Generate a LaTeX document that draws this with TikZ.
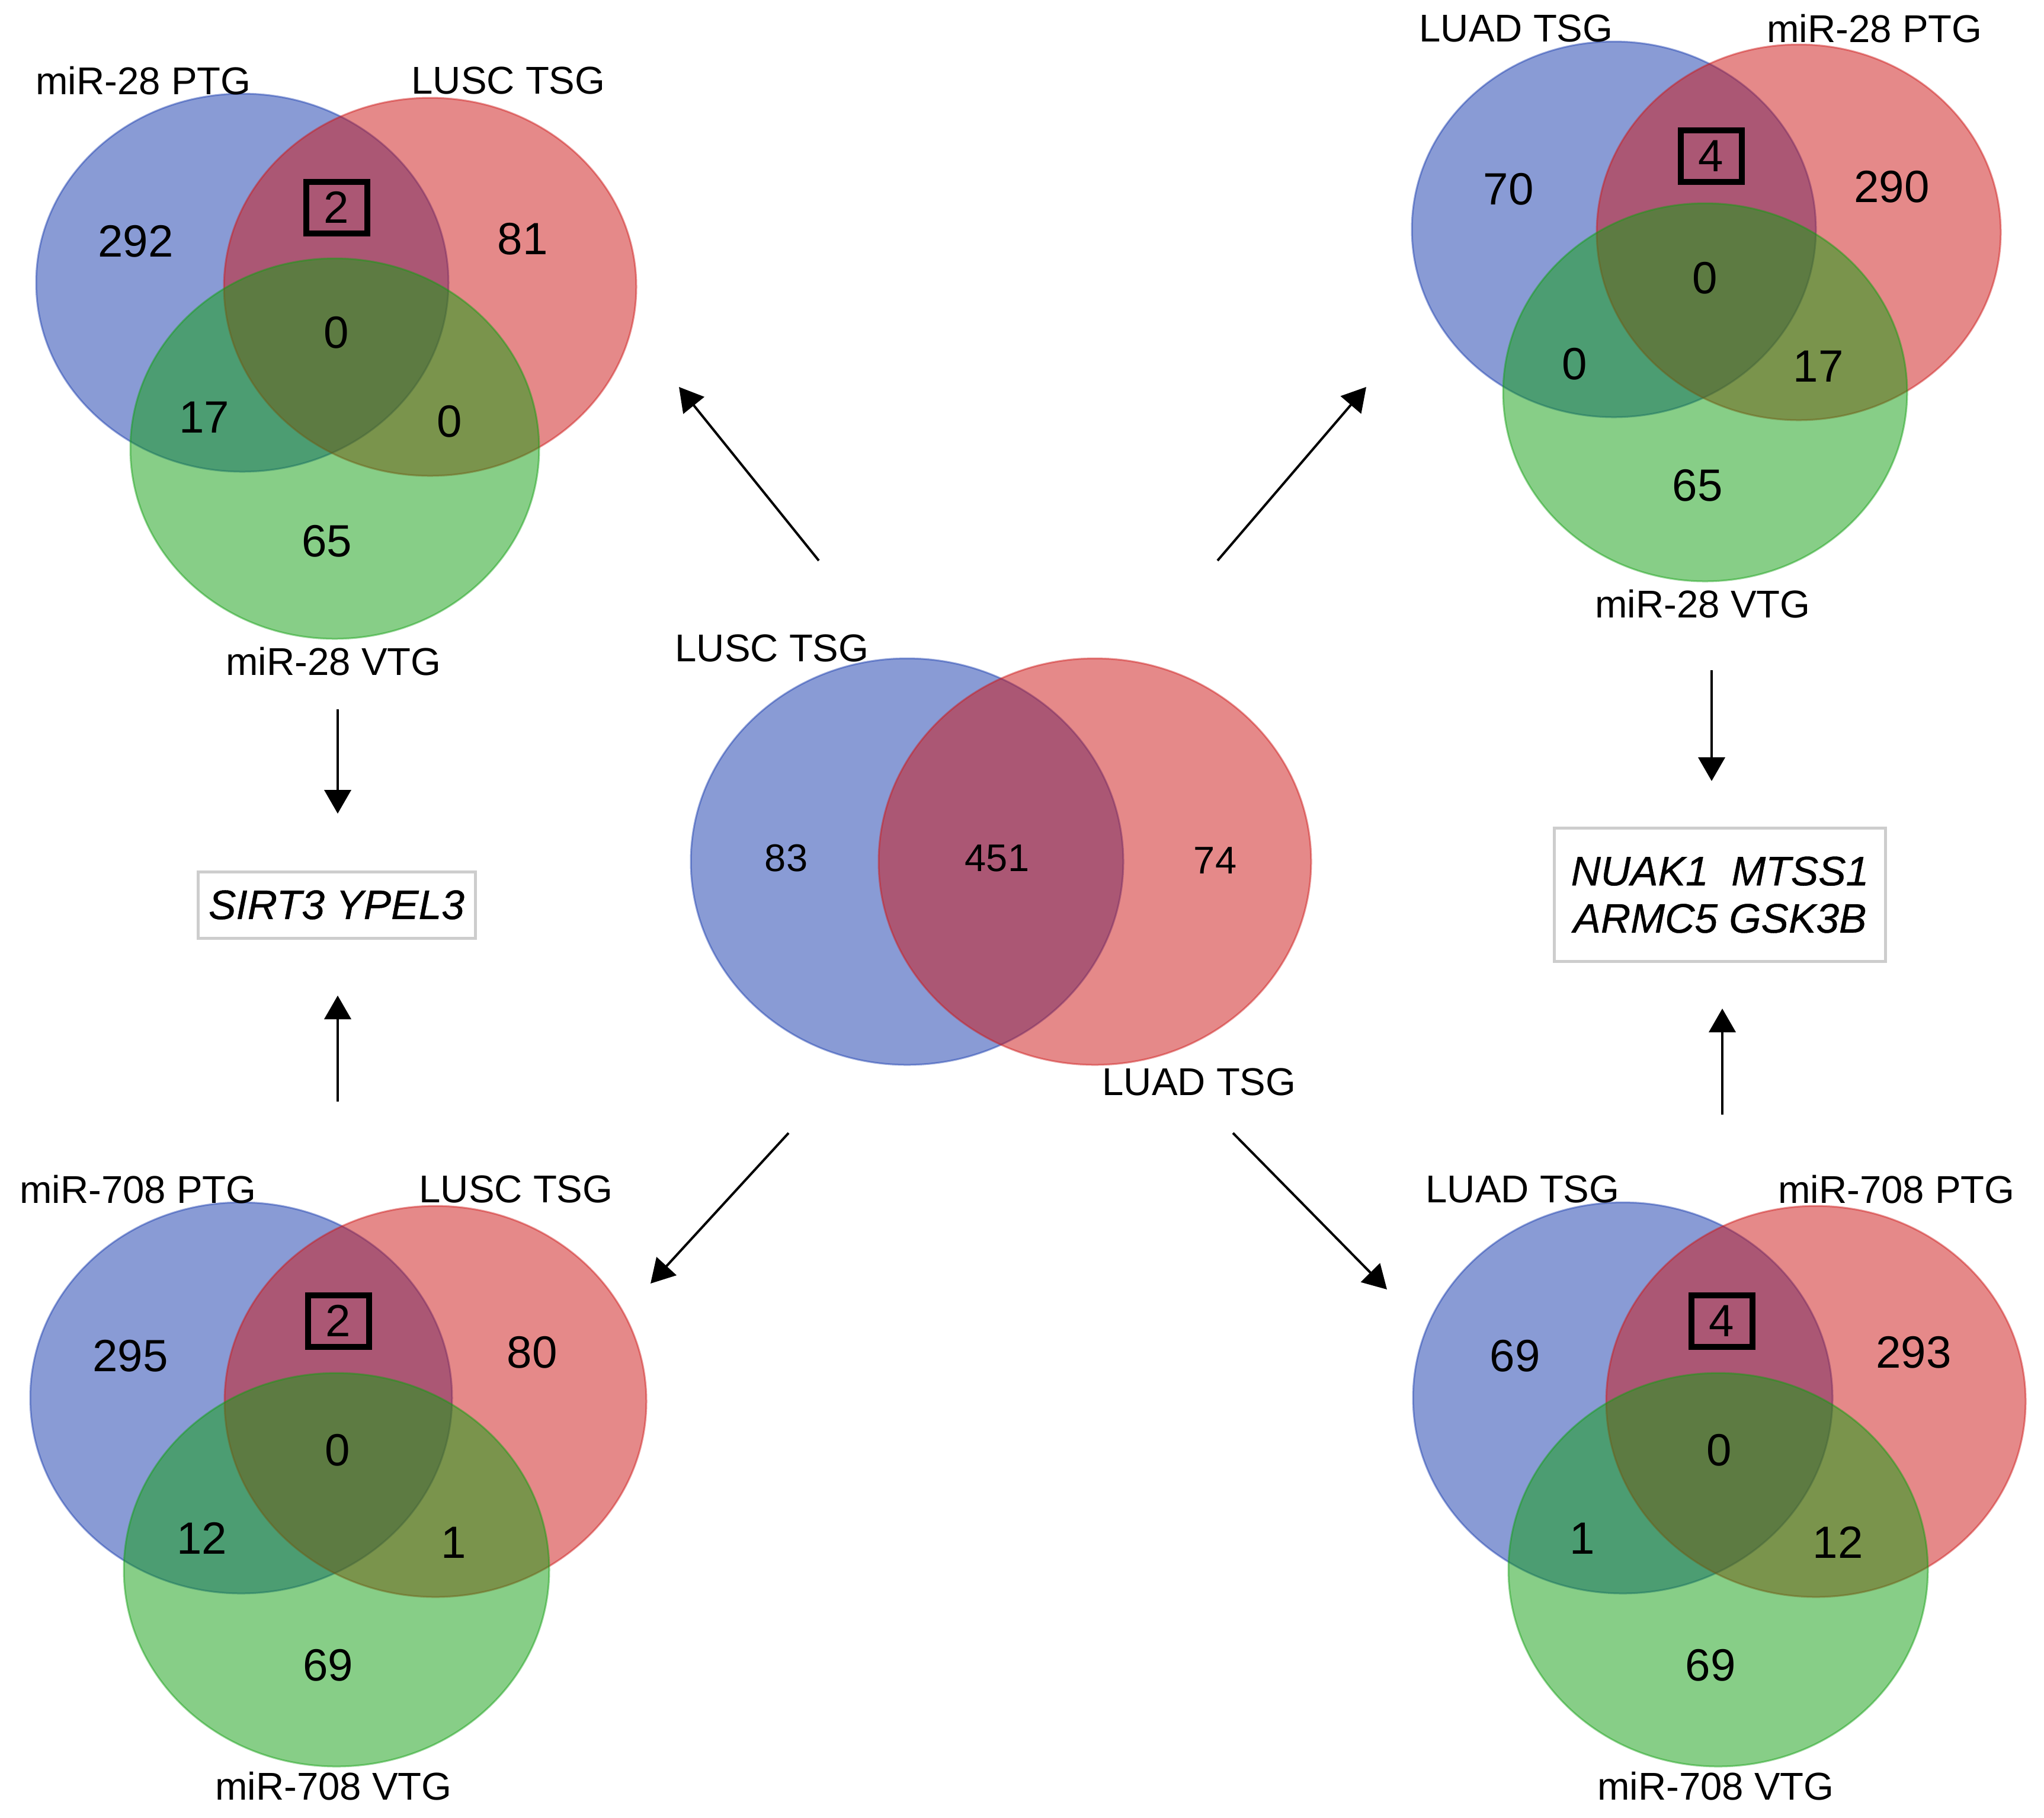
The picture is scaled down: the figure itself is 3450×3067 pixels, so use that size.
\documentclass[tikz,border=0pt]{standalone}
\usepackage{fontspec}
\setmainfont{Liberation Sans}
\newfontfamily\genefont[FakeBold=0.6]{Liberation Sans}
\usetikzlibrary{arrows.meta}
\definecolor{vblue}{RGB}{21,57,173}
\definecolor{vred}{RGB}{205,21,21}
\definecolor{vgreen}{RGB}{17,159,17}
\definecolor{gbox}{RGB}{205,205,205}
\tikzset{
  setblue/.style={fill=vblue, fill opacity=0.5, draw=vblue, draw opacity=0.45, line width=0.3mm},
  setred/.style={fill=vred, fill opacity=0.5, draw=vred, draw opacity=0.45, line width=0.3mm},
  setgreen/.style={fill=vgreen, fill opacity=0.5, draw=vgreen, draw opacity=0.45, line width=0.3mm},
  lbl/.style={font=\fontsize{18.6}{22}\selectfont, inner sep=0pt},
  num/.style={font=\fontsize{21.7}{26}\selectfont, inner sep=0pt},
  cnum/.style={font=\fontsize{18.5}{22}\selectfont, inner sep=0pt},
  numbox/.style={draw=black, line width=1mm, minimum width=10.3mm, minimum height=8.7mm},
  genebox/.style={draw=gbox, line width=0.5mm, font=\genefont\fontsize{19.8}{22.7}\selectfont\itshape, align=center, inner sep=0pt},
  arr/.style={-{Triangle[length=4mm, width=4.5mm]}, line width=0.4mm}
}
\begin{document}
\begin{tikzpicture}[x=0.1mm, y=-0.1mm]
\useasboundingbox (0,0) rectangle (3450,3067);
\fill[white] (0,0) rectangle (3450,3067);

% ---------- Top-left Venn ----------
\path[setblue]  (409,477) ellipse [x radius=348, y radius=319];
\path[setred]   (726,484) ellipse [x radius=348, y radius=319];
\path[setgreen] (565,757) ellipse [x radius=345, y radius=321];
\node[lbl] (tlA) at (242,136) {miR-28 PTG};
\node[lbl] (tlB) at (858,136) {LUSC TSG};
\node[lbl] (tlC) at (563,1116) {miR-28 VTG};
\node[num] (tln1) at (229,407) {292};
\node[num, numbox] (tln2) at (568,350) {2};
\node[num] (tln3) at (882,403) {81};
\node[num] (tln4) at (568,561) {0};
\node[num] (tln5) at (345,704) {17};
\node[num] (tln6) at (759,711) {0};
\node[num] (tln7) at (552,913) {65};

% ---------- Top-right Venn ----------
\path[setblue]  (2724,387) ellipse [x radius=341, y radius=317];
\path[setred]   (3036,392) ellipse [x radius=341, y radius=317];
\path[setgreen] (2878,662) ellipse [x radius=341, y radius=319];
\node[lbl] (trA) at (2559,48) {LUAD TSG};
\node[lbl] (trB) at (3164,48) {miR-28 PTG};
\node[lbl] (trC) at (2874,1019) {miR-28 VTG};
\node[num] (trn1) at (2546,319) {70};
\node[num, numbox] (trn2) at (2888,263) {4};
\node[num] (trn3) at (3193,315) {290};
\node[num] (trn4) at (2878,469) {0};
\node[num] (trn5) at (2658,614) {0};
\node[num] (trn6) at (3069,618) {17};
\node[num] (trn7) at (2865,819) {65};

% ---------- Bottom-left Venn ----------
\path[setblue]  (407,2359) ellipse [x radius=356, y radius=330];
\path[setred]   (735,2365) ellipse [x radius=356, y radius=330];
\path[setgreen] (568,2649) ellipse [x radius=359, y radius=332];
\node[lbl] (blA) at (233,2007) {miR-708 PTG};
\node[lbl] (blB) at (871,2007) {LUSC TSG};
\node[lbl] (blC) at (563,3014) {miR-708 VTG};
\node[num] (bln1) at (220,2288) {295};
\node[num, numbox] (bln2) at (571,2229) {2};
\node[num] (bln3) at (898,2282) {80};
\node[num] (bln4) at (570,2447) {0};
\node[num] (bln5) at (341,2596) {12};
\node[num] (bln6) at (766,2603) {1};
\node[num] (bln7) at (554,2810) {69};

% ---------- Bottom-right Venn ----------
\path[setblue]  (2739,2359) ellipse [x radius=354, y radius=330];
\path[setred]   (3065,2365) ellipse [x radius=354, y radius=330];
\path[setgreen] (2900,2649) ellipse [x radius=354, y radius=332];
\node[lbl] (brA) at (2570,2007) {LUAD TSG};
\node[lbl] (brB) at (3201,2007) {miR-708 PTG};
\node[lbl] (brC) at (2896,3014) {miR-708 VTG};
\node[num] (brn1) at (2557,2288) {69};
\node[num, numbox] (brn2) at (2906,2229) {4};
\node[num] (brn3) at (3230,2282) {293};
\node[num] (brn4) at (2902,2447) {0};
\node[num] (brn5) at (2671,2596) {1};
\node[num] (brn6) at (3102,2603) {12};
\node[num] (brn7) at (2887,2810) {69};

% ---------- Central Venn ----------
\path[setblue] (1531,1454) ellipse [x radius=365, y radius=343];
\path[setred]  (1848,1454) ellipse [x radius=365, y radius=343];
\node[lbl] (cA) at (1303,1094) {LUSC TSG};
\node[lbl] (cB) at (2024,1826) {LUAD TSG};
\node[cnum] (cn1) at (1327,1448) {83};
\node[cnum] (cn2) at (1683,1448) {451};
\node[cnum] (cn3) at (2051,1452) {74};

% ---------- Gene boxes ----------
\node[genebox, minimum width=46.8mm, minimum height=11.2mm] (g1) at (568,1527) {SIRT3 YPEL3};
\node[genebox, minimum width=55.9mm, minimum height=22.5mm] (g2) at (2903,1510) {NUAK1\ \ MTSS1\\ARMC5 GSK3B};

% ---------- Arrows ----------
\coordinate (a1s) at (1382,946);  \coordinate (a1e) at (1146,653);
\coordinate (a2s) at (2055,946);  \coordinate (a2e) at (2306,653);
\coordinate (a3s) at (1331,1912); \coordinate (a3e) at (1098,2166);
\coordinate (a4s) at (2081,1912); \coordinate (a4e) at (2341,2176);
\coordinate (a5s) at (570,1197);  \coordinate (a5e) at (570,1373);
\coordinate (a6s) at (570,1859);  \coordinate (a6e) at (570,1680);
\coordinate (a7s) at (2889,1131); \coordinate (a7e) at (2889,1318);
\coordinate (a8s) at (2907,1881); \coordinate (a8e) at (2907,1702);
\draw[arr] (a1s) -- (a1e);
\draw[arr] (a2s) -- (a2e);
\draw[arr] (a3s) -- (a3e);
\draw[arr] (a4s) -- (a4e);
\draw[arr] (a5s) -- (a5e);
\draw[arr] (a6s) -- (a6e);
\draw[arr] (a7s) -- (a7e);
\draw[arr] (a8s) -- (a8e);
\end{tikzpicture}
\end{document}
